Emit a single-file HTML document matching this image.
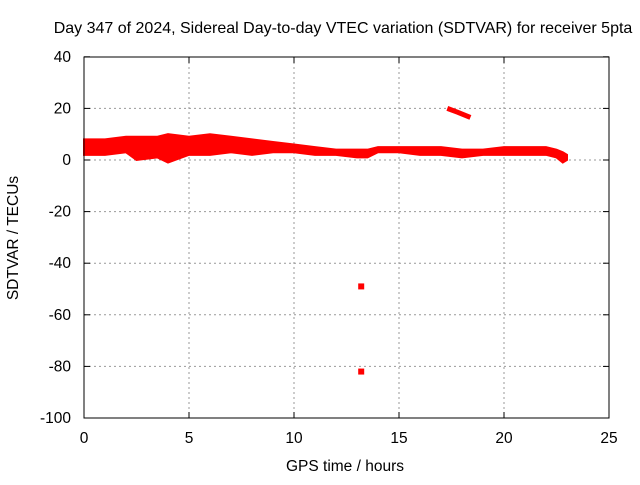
<!DOCTYPE html>
<html><head><meta charset="utf-8"><style>
body{margin:0;background:#fff}
svg{font-family:"Liberation Sans",sans-serif;font-size:15.5px}
</style></head><body>
<svg id="c" width="640" height="480">
<text x="343" y="33" text-anchor="middle" style="font-size:16px">Day 347 of 2024, Sidereal Day-to-day VTEC variation (SDTVAR) for receiver 5pta</text>
<text x="345" y="471" text-anchor="middle">GPS time / hours</text>
<text transform="translate(18,238) rotate(-90)" text-anchor="middle">SDTVAR / TECUs</text>
<g id="grid"></g><g id="marks"></g>
<rect x="84" y="57" width="525" height="361" fill="none" stroke="#000"/>
<g id="ticks"></g>
</svg>
<script>
const xTicks=[0,5,10,15,20,25];
const yTicks=[40,20,0,-20,-40,-60,-80,-100];
const bandT=[0,1,2,2.5,3.5,4,5,6,7,8,9,10,11,12,13,13.5,14,15,16,17,18,19,20,21,22,22.5,22.8,23];
const bandLow=[2,2,3,0,1,-1,2,2,3,2,3,3,2,2,1,1,3,3,2,2,1,2,2,2,2,1,-1,0];
const bandHigh=[8,8,9,9,9,10,9,10,9,8,7,6,5,4,4,4,5,5,5,5,4,4,5,5,5,4,3,2];
const arcT=[17.3,17.8,18.4];
const arcV=[20,18.5,16.5];
const outT=[13.2,13.2];
const outV=[-49,-82];
const X=t=>84+t*21, Y=v=>160-v*51.6/20;
const ns="http://www.w3.org/2000/svg";
const mk=(tag,a,p)=>{const e=document.createElementNS(ns,tag);for(const k in a)e.setAttribute(k,a[k]);p.appendChild(e);return e;};
const G=document.getElementById('grid'),M=document.getElementById('marks'),T=document.getElementById('ticks');
xTicks.forEach(t=>{
 if(t>0&&t<25){const l=mk('line',{x1:X(t),x2:X(t),y1:57,y2:418,stroke:'#999','stroke-dasharray':'2,3'},G);
 
 }
 mk('line',{x1:X(t),x2:X(t),y1:418,y2:412,stroke:'#000'},T);
 mk('line',{x1:X(t),x2:X(t),y1:57,y2:63,stroke:'#000'},T);
 const tx=mk('text',{x:X(t),y:443,'text-anchor':'middle'},T);tx.textContent=t;
 
 
});
yTicks.forEach(v=>{
 if(v<40&&v>-100){const l=mk('line',{x1:84,x2:609,y1:Y(v),y2:Y(v),stroke:'#999','stroke-dasharray':'2,3'},G);
 
 }
 mk('line',{x1:84,x2:90,y1:Y(v),y2:Y(v),stroke:'#000'},T);
 mk('line',{x1:609,x2:603,y1:Y(v),y2:Y(v),stroke:'#000'},T);
 const tx=mk('text',{x:71,y:Y(v)+5,'text-anchor':'end'},T);tx.textContent=v;
 
 
});
let pts=bandT.map((t,i)=>X(t)+','+Y(bandHigh[i]));
for(let i=bandT.length-1;i>=0;i--)pts.push(X(bandT[i])+','+Y(bandLow[i]));
const band=mk('polygon',{points:pts.join(' '),fill:'#f00',stroke:'#f00','stroke-width':2},M);


const arc=mk('polyline',{points:arcT.map((t,i)=>X(t)+','+Y(arcV[i])).join(' '),fill:'none',stroke:'#f00','stroke-width':5},M);


outT.forEach((t,i)=>{
 const r=mk('rect',{x:X(t)-3,y:Y(outV[i])-3,width:6,height:6,fill:'#f00'},M);
 
 
});
</script>
</body></html>
